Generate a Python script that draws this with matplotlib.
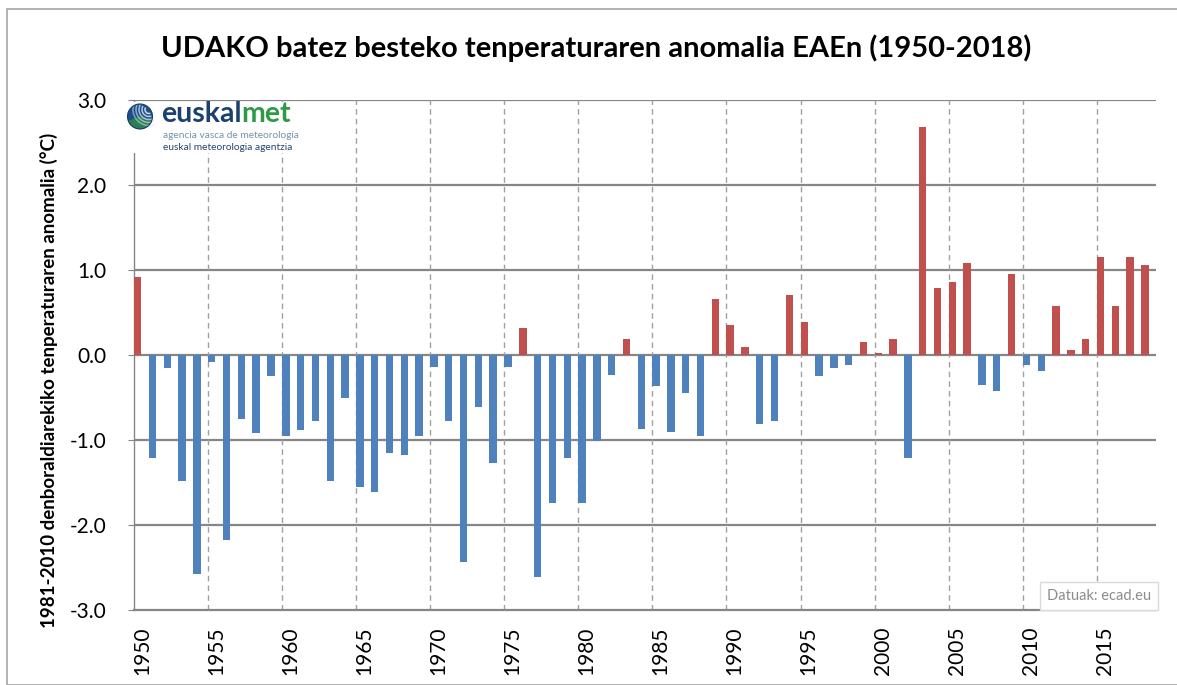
import numpy as np
import matplotlib.pyplot as plt
import matplotlib.transforms as mtransforms
from matplotlib.patches import Rectangle, Circle, Arc, Wedge

plt.rcParams['font.family'] = ['Lato', 'DejaVu Sans']
plt.rcParams['axes.unicode_minus'] = False

# Urteak eta anomaliak (°C), 1981-2010 aldiarekiko
urteak = list(range(1950, 2019))
anomaliak = [
    0.92, -1.21, -0.15, -1.48, -2.58, -0.08, -2.18, -0.75, -0.92, -0.25,
    -0.95, -0.88, -0.78, -1.48, -0.51, -1.55, -1.61, -1.15, -1.18, -0.95,
    -0.14, -0.78, -2.44, -0.61, -1.27, -0.14, 0.32, -2.61, -1.74, -1.21,
    -1.74, -1.01, -0.24, 0.19, -0.87, -0.37, -0.91, -0.45, -0.95, 0.66,
    0.35, 0.09, -0.81, -0.78, 0.71, 0.39, -0.25, -0.15, -0.12, 0.15,
    0.02, 0.19, -1.21, 2.68, 0.79, 0.86, 1.08, -0.35, -0.42, 0.95,
    -0.12, -0.19, 0.58, 0.06, 0.19, 1.15, 0.58, 1.15, 1.06,
]
y_tikak = [-3, -2, -1, 0, 1, 2, 3]
x_tikak = list(range(1950, 2016, 5))

gorria = '#C0504D'
urdina = '#4F81BD'
grisa = '#868686'

W, H = 1177, 685
fig = plt.figure(figsize=(W / 100, H / 100), dpi=100)

# Grafikoaren eremuaren ertza
fig.patches.append(Rectangle((7 / W, 0), 1.2, (H - 9) / H, transform=fig.transFigure,
                             fill=False, edgecolor='#a6a6a6', linewidth=1.2))

ax = fig.add_axes([134 / W, (H - 610) / H, (1156 - 134) / W, 510 / H])

koloreak = [gorria if v >= 0 else urdina for v in anomaliak]
ax.bar(urteak, anomaliak, width=0.5, align='edge', color=koloreak, zorder=3)

ax.set_xlim(1950, 2019)
ax.set_ylim(-3, 3)

# Sareta
for y in y_tikak[1:]:
    ax.axhline(y, color=grisa, linewidth=1.6, zorder=1)
for x in x_tikak[1:]:
    ax.axvline(x, color='#a0a0a0', linewidth=1.0, linestyle=(0, (4, 3)), zorder=1)

for s in ['top', 'right']:
    ax.spines[s].set_visible(False)
ax.spines['left'].set_color(grisa)
ax.spines['bottom'].set_color(grisa)
ax.spines['bottom'].set_linewidth(1.6)
ax.spines['left'].set_linewidth(1.0)

ax.set_yticks(y_tikak)
ax.set_yticklabels(['%.1f' % v for v in y_tikak], fontsize=15)
ax.tick_params(axis='y', length=4, color=grisa, pad=16)

ax.set_xticks(x_tikak)
ax.set_xticklabels([str(x) for x in x_tikak], rotation=90, fontsize=15)
ax.tick_params(axis='x', length=0, pad=12)
desplaz = mtransforms.ScaledTranslation(8 / 100, 0, fig.dpi_scale_trans)
for lab in ax.get_xticklabels():
    lab.set_transform(lab.get_transform() + desplaz)

ax.set_ylabel('1981-2010 denboraldiarekiko tenperaturaren anomalia (°C)',
              fontsize=13.5, fontweight='bold')
ax.yaxis.set_label_coords(-0.074, 0.45)

fig.text(596 / W, 1 - 48 / H, 'UDAKO batez besteko tenperaturaren anomalia EAEn (1950-2018)',
         ha='center', va='center', fontsize=21, fontweight='bold')

# Iturria
fig.text(1047 / W, 1 - 596 / H, 'Datuak: ecad.eu', ha='left', va='center', fontsize=10.5,
         color='#8c8c8c',
         bbox=dict(boxstyle='square,pad=0.45', facecolor='white', edgecolor='#d9d9d9', linewidth=1))

# Euskalmet logoa
fig.patches.append(Rectangle((120 / W, 1 - 153 / H), 182 / W, 51 / H, transform=fig.transFigure,
                             facecolor='white', edgecolor='none', zorder=5))
lax = fig.add_axes([124 / W, 1 - 130 / H, 32 / W, 27 / H], zorder=6)
lax.set_xlim(-16, 16)
lax.set_ylim(-13.5, 13.5)
lax.set_aspect('equal')
lax.axis('off')
lax.add_patch(Circle((0, 0), 12.5, facecolor='#1d4f86', edgecolor='none'))
lax.add_patch(Wedge((0, 0), 12.5, 200, 340, facecolor='#2f8a4a', edgecolor='none', alpha=0.8))
for i, r in enumerate([4, 7, 10, 13, 16]):
    lax.add_patch(Arc((9, 7), 2 * r, 2 * r, theta1=150, theta2=290,
                      color='#dfe9f3', linewidth=1.1, alpha=0.9 - 0.1 * i))
lax.add_patch(Circle((0, 0), 12.5, facecolor='none', edgecolor='#173f6a', linewidth=0.8))

t1 = fig.text(161 / W, 1 - 122 / H, 'euskal', fontsize=20.5, fontweight='bold',
              color='#1b416e', va='baseline', zorder=7)
fig.canvas.draw()
bb = t1.get_window_extent()
fig.text(bb.x1 / W, 1 - 122 / H, 'met', fontsize=20.5, fontweight='bold',
         color='#2e9a47', va='baseline', zorder=7)
fig.text(163 / W, 1 - 135 / H, 'agencia vasca de meteorología', fontsize=7.3,
         color='#7393ab', va='center', zorder=7)
fig.text(163 / W, 1 - 147 / H, 'euskal meteorologia agentzia', fontsize=7.3,
         color='#23466e', va='center', zorder=7)

fig.savefig('out.png', dpi=100)
